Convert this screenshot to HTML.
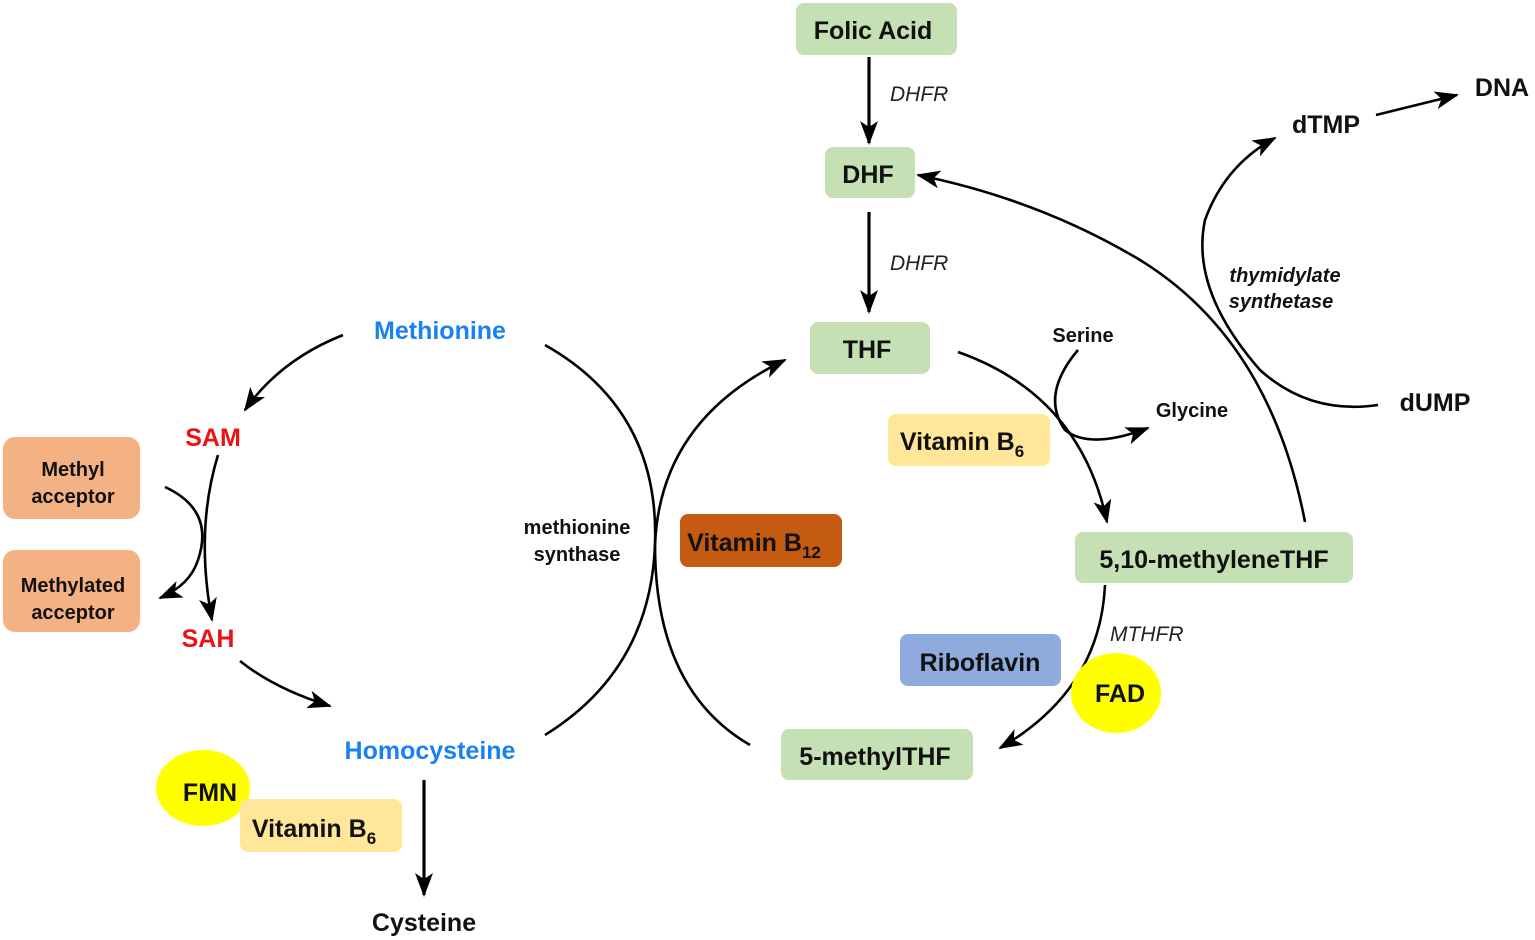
<!DOCTYPE html>
<html><head><meta charset="utf-8"><style>
html,body{margin:0;padding:0;background:#fff;}
svg{display:block;}
text{font-family:"Liberation Sans",Arial,sans-serif;}
.b{font-weight:bold;}
</style></head><body>
<svg width="1535" height="940" viewBox="0 0 1535 940" xmlns="http://www.w3.org/2000/svg">
<defs>
<marker id="a" viewBox="0 0 24 18" refX="22" refY="9" markerWidth="24" markerHeight="18" markerUnits="userSpaceOnUse" orient="auto">
<path d="M0,0 L24,9 L0,18 L6,9 Z" fill="#000"/>
</marker>
</defs>
<g fill="none" stroke="#000" stroke-width="2.6">
<line x1="869" y1="57" x2="869" y2="143" stroke-width="3.2" marker-end="url(#a)"/>
<line x1="869" y1="212" x2="869" y2="312" stroke-width="3.2" marker-end="url(#a)"/>
<line x1="424" y1="780" x2="424" y2="895" stroke-width="3.2" marker-end="url(#a)"/>
<path d="M343,335 Q280,360 245,410" marker-end="url(#a)"/>
<path d="M218,455 Q195,530 212,620" marker-end="url(#a)"/>
<path d="M165,487 Q215,510 198,560 Q190,585 160,598" marker-end="url(#a)"/>
<path d="M240,661 Q275,689 330,706" marker-end="url(#a)"/>
<path d="M545,345 Q660,410 655,545 Q650,670 545,735"/>
<path d="M750,745 Q655,690 655,545 Q660,420 785,360" marker-end="url(#a)"/>
<path d="M958,352 Q1080,395 1107,522" marker-end="url(#a)"/>
<path d="M1078,350 Q1040,395 1065,430 Q1090,450 1148,428" marker-end="url(#a)"/>
<path d="M1305,522 Q1270,340 1140,260 Q1040,200 918,175" marker-end="url(#a)"/>
<path d="M1378,405 Q1310,415 1260,370 Q1190,290 1205,220 Q1225,165 1275,138" marker-end="url(#a)"/>
<line x1="1376" y1="115" x2="1457" y2="95" marker-end="url(#a)"/>
<path d="M1105,585 Q1100,690 1000,748" marker-end="url(#a)"/>
</g>
<rect x="796" y="3" width="161" height="52" rx="8" fill="#c5e0b4"/>
<rect x="825" y="147" width="90" height="51" rx="8" fill="#c5e0b4"/>
<rect x="810" y="322" width="120" height="52" rx="8" fill="#c5e0b4"/>
<rect x="1075" y="532" width="278" height="51" rx="8" fill="#c5e0b4"/>
<rect x="781" y="729" width="192" height="51" rx="8" fill="#c5e0b4"/>
<rect x="3" y="437" width="137" height="82" rx="12" fill="#f4b183"/>
<rect x="3" y="550" width="137" height="82" rx="12" fill="#f4b183"/>
<rect x="888" y="414" width="162" height="52" rx="8" fill="#ffe699"/>
<rect x="680" y="514" width="162" height="53" rx="8" fill="#c55a11"/>
<rect x="900" y="634" width="161" height="52" rx="8" fill="#8faadc"/>
<ellipse cx="203" cy="788" rx="47" ry="38" fill="#ffff00"/>
<rect x="240" y="799" width="162" height="53" rx="8" fill="#ffe699"/>
<ellipse cx="1116" cy="693" rx="45" ry="40" fill="#ffff00"/>
<g class="b" font-size="25" text-anchor="middle" fill="#111">
<text x="873" y="39">Folic Acid</text>
<text x="868" y="183">DHF</text>
<text x="867" y="358">THF</text>
<text x="1214" y="568">5,10-methyleneTHF</text>
<text x="875" y="765">5-methylTHF</text>
<text x="962" y="450">Vitamin B<tspan font-size="17" dy="7">6</tspan></text>
<text x="314" y="837">Vitamin B<tspan font-size="17" dy="7">6</tspan></text>
<text x="754" y="551">Vitamin B<tspan font-size="17" dy="7">12</tspan></text>
<text x="980" y="671">Riboflavin</text>
<text x="210" y="801">FMN</text>
<text x="1120" y="702">FAD</text>
<text x="1326" y="133">dTMP</text>
<text x="1502" y="96">DNA</text>
<text x="1435" y="411">dUMP</text>
<text x="424" y="931">Cysteine</text>
</g>
<g class="b" font-size="20" text-anchor="middle" fill="#111">
<text x="73" y="476">Methyl</text>
<text x="73" y="503">acceptor</text>
<text x="73" y="592">Methylated</text>
<text x="73" y="619">acceptor</text>
<text x="1083" y="342">Serine</text>
<text x="1192" y="417">Glycine</text>
<text x="577" y="534">methionine</text>
<text x="577" y="561">synthase</text>
<text x="1285" y="282" font-style="italic">thymidylate</text>
<text x="1281" y="308" font-style="italic">synthetase</text>
</g>
<g class="b" font-size="25" text-anchor="middle">
<text x="440" y="339" fill="#1a80f5">Methionine</text>
<text x="430" y="759" fill="#1a80f5">Homocysteine</text>
<text x="213" y="446" fill="#ee1111">SAM</text>
<text x="208" y="647" fill="#ee1111">SAH</text>
</g>
<g font-size="21" font-style="italic" fill="#222">
<text x="890" y="101">DHFR</text>
<text x="890" y="270">DHFR</text>
<text x="1110" y="641">MTHFR</text>
</g>
</svg>
</body></html>
